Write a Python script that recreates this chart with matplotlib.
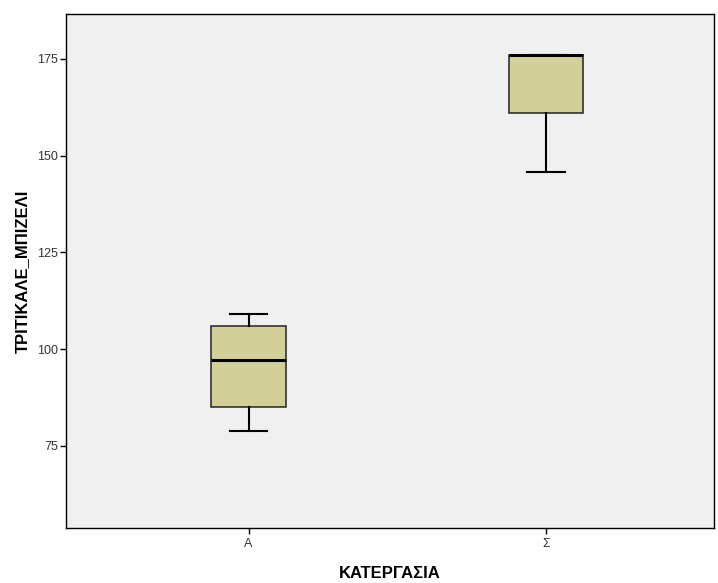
import matplotlib
matplotlib.use("Agg")
import matplotlib.pyplot as plt

plt.rcParams['font.family'] = ['Liberation Sans', 'DejaVu Sans']

# Box statistics per group
categories = ["Α", "Σ"]
whisker_low = [78.9, 145.7]
q1 = [85.0, 160.9]
median = [97.1, 176.0]
q3 = [106.1, 176.0]
whisker_high = [109.2, 176.0]

y_ticks = [75, 100, 125, 150, 175]

fig = plt.figure(figsize=(7.18, 5.83), dpi=100)
ax = fig.add_axes([0.092, 0.0943, 0.902, 0.882])
ax.set_facecolor("#F0F0F0")

stats = []
for i, name in enumerate(categories):
    stats.append(dict(label=name, whislo=whisker_low[i], q1=q1[i], med=median[i],
                      q3=q3[i], whishi=whisker_high[i], fliers=[]))

positions = [1, 2]
ax.bxp(stats, positions=positions, widths=0.252, patch_artist=True,
       showfliers=False,
       boxprops=dict(facecolor="#D3CF98", edgecolor="#222222", linewidth=1.1),
       whiskerprops=dict(color="black", linewidth=1.5),
       capprops=dict(color="black", linewidth=1.5),
       medianprops=dict(color="black", linewidth=2.2),
       capwidths=0.126)

ax.set_xlim(0.386, 2.564)
ax.set_ylim(53.8, 186.6)
ax.set_yticks(y_ticks)
ax.set_xticks(positions)
ax.set_xticklabels(categories)
ax.tick_params(axis='both', labelsize=9, length=4, width=1, direction='out',
               color='black', labelcolor='#333333')
ax.tick_params(axis='y', pad=2)

for s in ax.spines.values():
    s.set_color("black")
    s.set_linewidth(1.0)

ax.set_xlabel("ΚΑΤΕΡΓΑΣΙΑ", fontsize=12, fontweight='bold', labelpad=11)
ax.set_ylabel("ΤΡΙΤΙΚΑΛΕ_ΜΠΙΖΕΛΙ", fontsize=12, fontweight='bold', labelpad=5)

fig.savefig("out.png", dpi=100)
